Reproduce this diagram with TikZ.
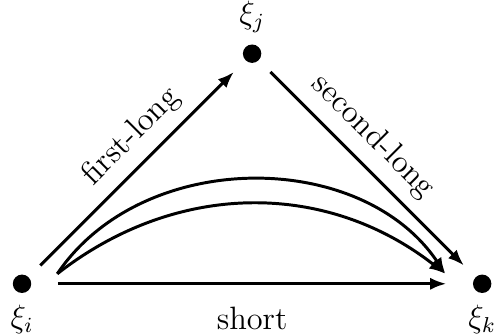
\documentclass[tikz,border=0pt,12pt]{standalone}
\usetikzlibrary{arrows.meta}
\begin{document}
\begin{tikzpicture}[
  >={Latex[length=6pt,width=4.5pt]},
  dot/.style={circle, fill, inner sep=0pt, minimum size=2.4mm},
  link/.style={->, line width=1.1pt, shorten <=#1, shorten >=#1}
]
  \useasboundingbox (-0.287,-0.678) rectangle (6.154,3.70);

  % points
  \node[dot, label={below:$\xi_i$}] (i) at (0,0) {};
  \node[dot, label={above:$\xi_j$}] (j) at (3,3) {};
  \node[dot, label={below:$\xi_k$}] (k) at (6,0) {};
  \coordinate (iout) at ([shift={(0.46,0.13)}]i.center);
  \coordinate (kin) at ([shift={(-0.48,0.13)}]k.center);

  % the two long legs
  \draw[link=0.21cm] (i) -- node[pos=0.56, above, sloped] {first-long} (j);
  \draw[link=0.21cm] (j) -- node[pos=0.44, above, sloped] {second-long} (k);

  % direct ones
  \draw[link=0.34cm] (i) -- node[below=4pt] {short} (k);
  \draw[link=0pt] (iout) to[bend left=56] (kin);
  \draw[link=0pt] (iout) to[bend left=38] (kin);
\end{tikzpicture}
\end{document}
